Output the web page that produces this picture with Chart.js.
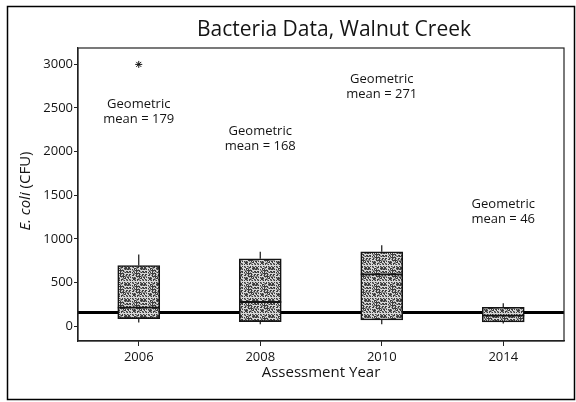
<!DOCTYPE html>
<html>
<head>
<meta charset="utf-8">
<script src="https://cdn.jsdelivr.net/npm/chart.js@4"></script>
<style>
  body { margin: 0; background: #fff; }
  canvas { display: block; }
</style>
</head>
<body>
<canvas id="bacteria" width="576" height="402"></canvas>
<script>
const years = ['2006', '2008', '2010', '2014'];
const q1 = [85, 50, 69, 46];
const medians = [210, 275, 592, 120];
const q3 = [694, 771, 851, 214];
const whiskerLow = [40, 20, 20, 30];
const whiskerHigh = [820, 851, 927, 260];
const outliers = [3000, null, null, null];
const geoMeans = [179, 168, 271, 46];
const noteAt = [2546, 2228, 2833, 1399];   // where each "Geometric mean" note sits (y value)
const standard = 155;
const yTicks = [0, 500, 1000, 1500, 2000, 2500, 3000];

const ink = '#141414';
const canvas = document.getElementById('bacteria');

// speckled grey fill like the scanned boxes
function stipple() {
  const c = document.createElement('canvas');
  c.width = 16; c.height = 16;
  const g = c.getContext('2d');
  g.fillStyle = '#d8d8d8';
  g.fillRect(0, 0, 16, 16);
  for (let y = 0; y < 16; y++) {
    for (let x = 0; x < 16; x++) {
      const k = (x * 7 + y * 11 + x * y * 5) % 13;
      if (k < 5) { g.fillStyle = '#3c3c3c'; g.fillRect(x, y, 1, 1); }
      else if (k < 8) { g.fillStyle = '#8a8a8a'; g.fillRect(x, y, 1, 1); }
    }
  }
  return canvas.getContext('2d').createPattern(c, 'repeat');
}

const boxExtras = {
  id: 'boxExtras',
  beforeDraw(chart) {
    const ctx = chart.ctx;
    ctx.save();
    ctx.fillStyle = '#fff';
    ctx.fillRect(0, 0, chart.width, chart.height);
    ctx.restore();
  },
  beforeDatasetsDraw(chart) {
    const {ctx, chartArea: a, scales: {y}} = chart;
    const py = y.getPixelForValue(standard);
    ctx.save();
    ctx.strokeStyle = '#000';
    ctx.lineWidth = 3;
    ctx.beginPath();
    ctx.moveTo(a.left, py);
    ctx.lineTo(a.right, py);
    ctx.stroke();
    ctx.restore();
  },
  afterDatasetsDraw(chart) {
    const {ctx, scales: {y}} = chart;
    const bars = chart.getDatasetMeta(0).data;
    ctx.save();
    ctx.strokeStyle = ink;
    bars.forEach((bar, i) => {
      const half = bar.width / 2;
      // whiskers
      ctx.lineWidth = 1.2;
      ctx.beginPath();
      ctx.moveTo(bar.x, y.getPixelForValue(q3[i]));
      ctx.lineTo(bar.x, y.getPixelForValue(whiskerHigh[i]));
      ctx.moveTo(bar.x, y.getPixelForValue(q1[i]));
      ctx.lineTo(bar.x, y.getPixelForValue(whiskerLow[i]));
      ctx.stroke();
      // median
      ctx.lineWidth = 1.8;
      const my = y.getPixelForValue(medians[i]);
      ctx.beginPath();
      ctx.moveTo(bar.x - half, my);
      ctx.lineTo(bar.x + half, my);
      ctx.stroke();
    });
    ctx.restore();
  },
  afterDraw(chart) {
    const {ctx, chartArea: a, scales: {x, y}} = chart;
    ctx.save();
    // plot box
    ctx.strokeStyle = '#222';
    ctx.lineWidth = 1.2;
    ctx.strokeRect(a.left, a.top, a.right - a.left, a.bottom - a.top);
    // outer frame
    ctx.strokeStyle = '#000';
    ctx.lineWidth = 1.5;
    ctx.strokeRect(7.5, 6.5, 567, 393);

    ctx.fillStyle = ink;
    ctx.textAlign = 'center';
    ctx.textBaseline = 'middle';
    ctx.font = '21px "Open Sans"';
    ctx.fillText('Bacteria Data, Walnut Creek', 334, 30);

    // geometric mean notes
    ctx.font = '13px "Open Sans"';
    years.forEach((yr, i) => {
      const px = x.getPixelForValue(i);
      const py = y.getPixelForValue(noteAt[i]);
      ctx.fillText('Geometric', px, py);
      ctx.fillText('mean = ' + geoMeans[i], px, py + 15);
    });

    // y axis title, E. coli in italics
    ctx.translate(26, 191);
    ctx.rotate(-Math.PI / 2);
    const italic = 'italic 15px "Open Sans"';
    const plain = '15px "Open Sans"';
    ctx.font = italic;
    const w1 = ctx.measureText('E. coli').width;
    ctx.font = plain;
    const w2 = ctx.measureText(' (CFU)').width;
    ctx.textAlign = 'left';
    const sx = -(w1 + w2) / 2;
    ctx.font = italic;
    ctx.fillText('E. coli', sx, 0);
    ctx.font = plain;
    ctx.fillText(' (CFU)', sx + w1, 0);
    ctx.restore();
  }
};

new Chart(canvas, {
  type: 'bar',
  data: {
    labels: years,
    datasets: [{
      data: years.map((_, i) => [q1[i], q3[i]]),
      backgroundColor: stipple(),
      borderColor: ink,
      borderWidth: 1.6,
      borderSkipped: false,
      barThickness: 42
    }, {
      type: 'line',
      data: outliers,
      showLine: false,
      pointStyle: 'star',
      pointRadius: 3.5,
      borderColor: ink,
      borderWidth: 1,
      backgroundColor: 'transparent'
    }]
  },
  options: {
    responsive: false,
    animation: false,
    layout: { padding: { top: 48, right: 12, bottom: 0, left: 0 } },
    plugins: {
      legend: { display: false },
      tooltip: { enabled: false },
      title: { display: false }
    },
    scales: {
      x: {
        afterFit: s => { s.height = 61; },
        grid: { offset: false, drawOnChartArea: false, tickLength: 5, color: '#222' },
        border: { display: true, color: '#222', width: 1.2 },
        ticks: { color: ink, padding: 3, font: { family: 'Open Sans', size: 13 } },
        title: {
          display: true,
          text: 'Assessment Year',
          color: ink,
          font: { family: 'Open Sans', size: 15 },
          padding: { top: 0, bottom: 20 }
        }
      },
      y: {
        min: -172,
        max: 3188,
        afterFit: s => { s.width = 78; },
        afterBuildTicks: s => { s.ticks = yTicks.map(v => ({ value: v })); },
        grid: { drawOnChartArea: false, tickLength: 4, color: '#222' },
        border: { display: true, color: '#222', width: 1.2 },
        ticks: {
          color: ink,
          padding: 1,
          font: { family: 'Open Sans', size: 13 },
          callback: v => String(v)
        }
      }
    }
  },
  plugins: [boxExtras]
});
</script>
</body>
</html>
